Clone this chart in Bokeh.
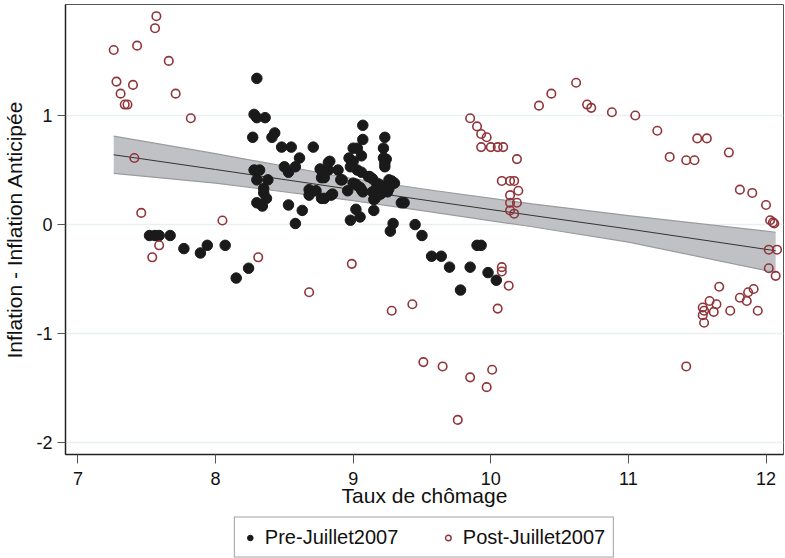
from bokeh.plotting import figure
from bokeh.models import Legend, LegendItem, FixedTicker, ColumnDataSource
from bokeh.layouts import column
from bokeh.embed import file_html
from bokeh.resources import INLINE

# ---------------- data ----------------
pre_x = [7.52, 7.56, 7.59, 7.67, 7.77, 7.89, 7.94, 8.07, 8.15, 8.24,
         8.30, 8.28, 8.30, 8.36, 8.27, 8.43, 8.41, 8.48, 8.55, 8.71,
         8.61, 8.50, 8.53, 8.58, 8.28, 8.32, 8.30, 8.38, 8.35, 8.35,
         8.37, 8.30, 8.34, 8.53, 8.63, 8.58, 8.68, 8.73, 8.68, 8.77,
         8.85, 8.76, 8.83, 8.82, 8.77, 8.89, 8.91, 8.92, 8.96, 8.97,
         9.00, 8.98, 9.00, 9.03, 9.07, 9.07, 9.06, 9.03, 9.06, 9.02,
         9.06, 9.11, 9.14, 9.17, 9.18, 9.21, 9.14, 9.20, 9.16, 9.23,
         9.22, 9.22, 9.24, 9.23, 9.23, 9.26, 9.30, 9.15, 9.24, 9.25,
         9.35, 8.82, 8.79, 9.00, 9.05, 9.07, 9.17, 9.23, 8.84, 8.79,
         9.15, 9.18, 9.37, 9.02, 9.05, 8.98, 9.29, 9.27, 9.45, 9.50,
         9.57, 9.64, 9.12, 9.19, 9.26, 9.28, 9.90, 9.93, 9.70, 9.85,
         9.98, 10.04, 9.78]
pre_y = [-0.10, -0.10, -0.10, -0.10, -0.22, -0.26, -0.19, -0.19, -0.49, -0.40,
         1.34, 1.01, 0.98, 0.98, 0.80, 0.84, 0.80, 0.71, 0.71, 0.71,
         0.61, 0.53, 0.48, 0.53, 0.50, 0.50, 0.41, 0.41, 0.33, 0.29,
         0.24, 0.20, 0.17, 0.18, 0.13, 0.01, 0.32, 0.31, 0.27, 0.24,
         0.28, 0.51, 0.58, 0.50, 0.43, 0.50, 0.41, 0.41, 0.31, 0.61,
         0.58, 0.53, 0.70, 0.70, 0.91, 0.78, 0.63, 0.50, 0.48, 0.37,
         0.32, 0.44, 0.42, 0.38, 0.33, 0.35, 0.30, 0.28, 0.24, 0.80,
         0.70, 0.61, 0.60, 0.56, 0.53, 0.41, 0.38, 0.13, 0.32, 0.30,
         0.20, 0.57, 0.43, 0.38, 0.34, 0.30, 0.33, 0.31, 0.27, 0.24,
         0.23, 0.27, 0.20, 0.14, 0.07, 0.04, 0.01, -0.06, 0.00, -0.10,
         -0.29, -0.29, 0.44, 0.37, 0.33, 0.40, -0.19, -0.19, -0.39, -0.39,
         -0.44, -0.51, -0.60]

post_x = [7.26, 7.57, 7.56, 7.43, 7.66, 7.28, 7.40, 7.31, 7.71, 7.34,
          7.36, 7.82, 7.41, 7.46, 8.05, 7.59, 7.54, 8.31, 8.68, 8.99,
          9.28, 9.43, 10.05, 10.13, 9.51, 9.65, 9.85, 10.01, 9.97, 9.76,
          9.85, 9.90, 9.93, 9.97, 9.93, 10.00, 10.05, 10.09, 10.19, 10.08,
          10.14, 10.17, 10.20, 10.14, 10.14, 10.19, 10.14, 10.17, 10.08, 10.08,
          10.35, 10.44, 10.62, 10.70, 10.73, 10.88, 11.05, 11.21, 11.30, 11.42,
          11.48, 11.50, 11.57, 11.73, 11.81, 11.90, 12.00, 12.03, 12.05, 12.06,
          12.02, 12.08, 12.02, 12.07, 11.66, 11.91, 11.87, 11.81, 11.86, 11.59,
          11.64, 11.54, 11.55, 11.62, 11.54, 11.55, 11.74, 11.94, 11.42]
post_y = [1.60, 1.91, 1.80, 1.64, 1.50, 1.31, 1.28, 1.20, 1.20, 1.10,
          1.10, 0.975, 0.61, 0.107, 0.037, -0.19, -0.30, -0.30, -0.62, -0.36,
          -0.79, -0.73, -0.77, -0.56, -1.26, -1.30, -1.40, -1.33, -1.49, -1.79,
          0.975, 0.90, 0.83, 0.80, 0.71, 0.71, 0.71, 0.71, 0.60, 0.40,
          0.40, 0.40, 0.31, 0.27, 0.20, 0.20, 0.13, 0.10, -0.39, -0.43,
          1.09, 1.20, 1.30, 1.10, 1.07, 1.03, 1.00, 0.86, 0.62, 0.59,
          0.59, 0.79, 0.79, 0.66, 0.32, 0.29, 0.18, 0.04, 0.02, 0.01,
          -0.23, -0.23, -0.40, -0.47, -0.57, -0.59, -0.62, -0.67, -0.70, -0.70,
          -0.73, -0.76, -0.79, -0.80, -0.83, -0.90, -0.79, -0.79, -1.30]

fit_x = [7.26, 8.0, 9.0, 9.6, 10.3, 11.0, 12.07]
fit_y = [0.64, 0.505, 0.32, 0.21, 0.084, -0.04, -0.24]
ci_hi = [0.81, 0.65, 0.42, 0.31, 0.19, 0.083, -0.07]
ci_lo = [0.47, 0.38, 0.22, 0.11, -0.02, -0.16, -0.44]

x_ticks = [7, 8, 9, 10, 11, 12]
y_ticks = [-2, -1, 0, 1]
y_tick_labels = {-2: "-2", -1: "-1", 0: "0", 1: "1"}

x_title = "Taux de chômage"
y_title = "Inflation - Inflation Anticipée"
labels = ["Pre-Juillet2007", "Post-Juillet2007"]

# ---------------- styles ----------------
FONT = "Liberation Sans"
MAROON = "#90353B"
BLACK = "#1a1a1a"

# ---------------- main figure ----------------
p = figure(width=785, height=516, x_range=(6.9096, 12.127), y_range=(-2.107, 2.017),
           output_backend="svg", toolbar_location=None,
           min_border_left=62, min_border_right=2, min_border_top=4, min_border_bottom=62)
p.background_fill_color = "white"
p.border_fill_color = "white"
p.outline_line_color = "#555555"
p.outline_line_width = 1

p.xgrid.grid_line_color = None
p.ygrid.grid_line_color = "#e8f0f2"
p.ygrid.grid_line_width = 1.3

band_src = ColumnDataSource(dict(x=fit_x, lo=ci_lo, hi=ci_hi, y=fit_y))
p.varea(x="x", y1="lo", y2="hi", source=band_src, fill_color="#c0c1c4", fill_alpha=1)
p.line(x="x", y="hi", source=band_src, line_color="#9a9b9e", line_width=1.2)
p.line(x="x", y="lo", source=band_src, line_color="#9a9b9e", line_width=1.2)
p.line(x="x", y="y", source=band_src, line_color="#333333", line_width=1)

p.scatter(pre_x, pre_y, marker="circle", size=10.5, fill_color=BLACK, line_color=BLACK)
p.scatter(post_x, post_y, marker="circle", size=8.5, fill_color="white",
          fill_alpha=0, line_color=MAROON, line_width=1.6)

for ax in (p.xaxis[0], p.yaxis[0]):
    ax.axis_line_color = "#222222"
    ax.axis_line_width = 1.5
    ax.major_tick_line_color = "#555555"
    ax.major_tick_in = 0
    ax.minor_tick_line_color = None
    ax.major_label_text_font = FONT
    ax.major_label_text_font_size = "18px"
    ax.major_label_text_color = "#111111"
    ax.axis_label_text_font = FONT
    ax.axis_label_text_font_size = "21px"
    ax.axis_label_text_font_style = "normal"
    ax.axis_label_text_color = "#111111"

p.xaxis.major_tick_out = 9
p.yaxis.major_tick_out = 8
p.xaxis.ticker = FixedTicker(ticks=x_ticks)
p.yaxis.ticker = FixedTicker(ticks=y_ticks)
p.yaxis.major_label_overrides = y_tick_labels
p.xaxis.axis_label = x_title
p.yaxis.axis_label = y_title
p.xaxis.major_label_standoff = 8
p.xaxis.axis_label_standoff = -4
p.yaxis.major_label_standoff = 5
p.yaxis.axis_label_standoff = 7
p.yaxis.major_label_orientation = "horizontal"

# ---------------- legend strip ----------------
# the strip's ranges lie far from the data, so its scatter renderers only feed the legend
q = figure(width=785, height=42, x_range=(100, 101), y_range=(100, 101),
           output_backend="svg", toolbar_location=None,
           x_axis_type=None, y_axis_type=None,
           min_border_left=47, min_border_right=0, min_border_top=0, min_border_bottom=0)
q.outline_line_color = None
q.xgrid.grid_line_color = None
q.ygrid.grid_line_color = None
l_pre = q.scatter(pre_x, pre_y, marker="circle", size=7, fill_color=BLACK, line_color=BLACK)
l_post = q.scatter(post_x, post_y, marker="circle", size=6, fill_color="white",
                   fill_alpha=0, line_color=MAROON, line_width=1.4)

legend = Legend(items=[LegendItem(label=labels[0], renderers=[l_pre]),
                       LegendItem(label=labels[1], renderers=[l_post])],
                orientation="horizontal", location="center")
legend.label_text_font = FONT
legend.label_text_font_size = "20px"
legend.label_text_color = "#111111"
legend.border_line_color = "#444444"
legend.border_line_width = 1
legend.background_fill_color = "white"
legend.glyph_width = 14
legend.glyph_height = 14
legend.label_width = 136
legend.spacing = 40
legend.padding = 8
legend.margin = 0
legend.label_standoff = 8
q.add_layout(legend, "center")

layout = column(p, q, spacing=0)
open("out.html", "w").write(file_html(layout, INLINE))
